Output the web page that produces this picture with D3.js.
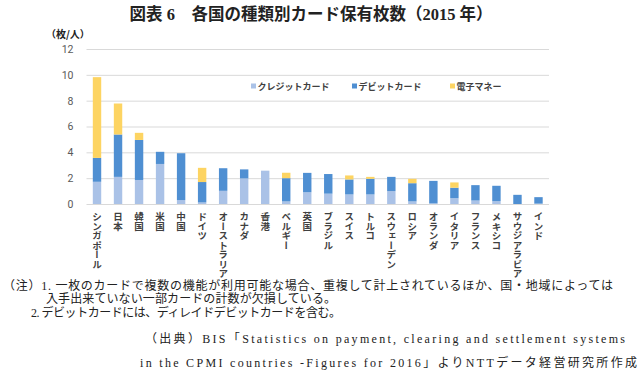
<!DOCTYPE html>
<html>
<head>
<meta charset="utf-8">
<title>各国の種類別カード保有枚数</title>
<script src="https://d3js.org/d3.v7.min.js"></script>
<style>
  body { margin: 0; background: #fff; }
  svg { display: block; }
</style>
</head>
<body>
<svg id="chart" width="640" height="374"></svg>
<script>
  // data
  let countries = ['シンガポール', '日本', '韓国', '米国', '中国', 'ドイツ', 'オーストラリア', 'カナダ',
    '香港', 'ベルギー', '英国', 'ブラジル', 'スイス', 'トルコ', 'スウェーデン', 'ロシア',
    'オランダ', 'イタリア', 'フランス', 'メキシコ', 'サウジアラビア', 'インド'];
  let credit = [1.72, 2.10, 1.86, 3.10, 0.30, 0.12, 1.02, 1.98, 2.58, 0.20, 0.91, 0.80,
    0.74, 0.74, 1.00, 0.20, 0.05, 0.45, 0.27, 0.22, 0.00, 0.03];
  let debit = [1.85, 3.28, 3.10, 0.94, 3.63, 1.58, 1.75, 0.70, 0.00, 1.80, 1.50, 1.52,
    1.16, 1.21, 1.10, 1.41, 1.74, 0.81, 1.19, 1.19, 0.71, 0.50];
  let emoney = [6.25, 2.40, 0.55, 0, 0, 1.10, 0, 0, 0, 0.42, 0, 0,
    0.31, 0.15, 0, 0.34, 0, 0.41, 0, 0, 0, 0];
  let seriesNames = ['クレジットカード', 'デビットカード', '電子マネー'];
  let yTicks = [0, 2, 4, 6, 8, 10, 12];

  let colors = ['#aac2e7', '#4f8fd2', '#fdd462'];
  let svg = d3.select('#chart');

  let margin = { top: 49, left: 86.5, right: 91, bottom: 170 };
  let plotWidth = 640 - margin.left - margin.right;
  let plotHeight = 374 - margin.top - margin.bottom;

  let x = d3.scaleBand()
    .domain(countries)
    .range([0, plotWidth])
    .paddingInner(0.6)
    .paddingOuter(0.3);

  let y = d3.scaleLinear()
    .domain([0, 12])
    .range([plotHeight, 0]);

  let plot = svg.append('g')
    .attr('transform', translate(margin.left, margin.top));

  // gridlines + y labels via axis
  let yAxis = d3.axisLeft(y)
    .tickValues(yTicks)
    .tickSize(-plotWidth)
    .tickPadding(13);
  let yGroup = plot.append('g').call(yAxis);
  yGroup.select('.domain').remove();
  yGroup.selectAll('line').attr('stroke', '#d9d9d9');
  yGroup.selectAll('text')
    .attr('fill', '#595959')
    .style('font-family', 'Roboto, "Noto Sans", sans-serif')
    .style('font-size', '10.5px');

  // stack the three series
  let rows = countries.map((c, i) => ({ country: c, 0: credit[i], 1: debit[i], 2: emoney[i] }));
  let stacked = d3.stack().keys([0, 1, 2])(rows);

  plot.selectAll('g.series')
    .data(stacked)
    .enter().append('g')
    .attr('class', 'series')
    .attr('fill', (d, i) => colors[i])
    .selectAll('rect')
    .data(d => d)
    .enter().append('rect')
    .attr('x', d => x(d.data.country))
    .attr('width', x.bandwidth())
    .attr('y', d => y(d[1]))
    .attr('height', d => y(d[0]) - y(d[1]));

  // category labels, vertical
  let xAxis = d3.axisBottom(x).tickSize(0).tickPadding(0);
  let xGroup = plot.append('g')
    .attr('transform', translate(0, plotHeight))
    .call(xAxis);
  xGroup.select('.domain').remove();
  xGroup.selectAll('text')
    .attr('y', 8)
    .attr('dy', 0)
    .attr('fill', '#404040')
    .style('writing-mode', 'vertical-rl')
    .style('text-anchor', 'start')
    .style('font-family', '"Noto Sans CJK JP", sans-serif')
    .style('font-weight', 'bold')
    .style('font-size', '9.5px');

  // legend
  let legendX = [251, 352, 450];
  let legend = svg.append('g').attr('transform', translate(0, 86));
  seriesNames.forEach((name, i) => {
    legend.append('rect')
      .attr('x', legendX[i]).attr('y', -2.5)
      .attr('width', 5).attr('height', 5)
      .attr('fill', colors[i]);
    legend.append('text')
      .attr('x', legendX[i] + 6.5).attr('y', 3.5)
      .attr('fill', '#404040')
      .style('font-family', '"Noto Sans CJK JP", sans-serif')
      .style('font-weight', 'bold')
      .style('font-size', '9px')
      .text(name);
  });

  // title and unit
  svg.append('text')
    .attr('x', 311).attr('y', 20)
    .attr('text-anchor', 'middle')
    .attr('fill', '#222')
    .style('font-family', '"Liberation Serif", "Noto Sans CJK JP", serif')
    .style('font-weight', 'bold')
    .style('font-size', '16.5px')
    .text('図表 6　各国の種類別カード保有枚数（2015 年）');

  svg.append('text')
    .attr('x', 46).attr('y', 38)
    .attr('fill', '#222')
    .style('font-family', '"Noto Sans CJK JP", sans-serif')
    .style('font-weight', 'bold')
    .style('font-size', '10px')
    .text('（枚/人）');

  // notes
  let notes = [
    { t: '（注）1.  一枚のカードで複数の機能が利用可能な場合、重複して計上されているほか、国・地域によっては', x: 3, y: 290, w: 610 },
    { t: '入手出来ていない一部カードの計数が欠損している。', x: 46, y: 303, w: 290 },
    { t: '2.  デビットカードには、ディレイドデビットカードを含む。', x: 31, y: 317, w: 310 },
    { t: '（出典）BIS「Statistics on payment, clearing and settlement systems', x: 145, y: 343, w: 480 },
    { t: 'in the CPMI countries  -Figures for 2016」よりNTTデータ経営研究所作成', x: 140, y: 367, w: 497 }
  ];
  notes.forEach(n => {
    svg.append('text')
      .attr('x', n.x).attr('y', n.y)
      .attr('textLength', n.w)
      .attr('lengthAdjust', 'spacing')
      .attr('fill', '#222')
      .style('font-family', '"Liberation Serif", "Noto Sans CJK JP", serif')
      .style('font-size', '12px')
      .text(n.t);
  });

  function translate(x, y) {
    return 'translate(' + x + ',' + y + ')';
  }
</script>
</body>
</html>
